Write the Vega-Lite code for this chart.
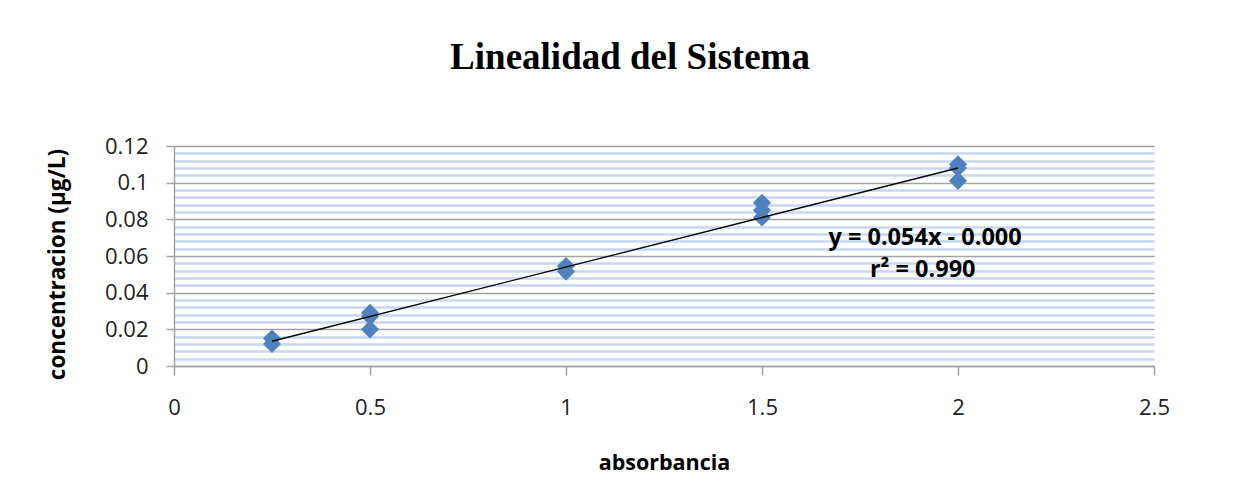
{
  "$schema": "https://vega.github.io/schema/vega-lite/v6.json",
  "autosize": "none",
  "width": 980,
  "height": 220,
  "padding": {"left": 174, "top": 146, "right": 89, "bottom": 116},
  "background": "white",
  "title": {
    "text": "Linealidad del Sistema",
    "font": "Liberation Serif",
    "fontSize": 37,
    "fontWeight": "bold",
    "color": "black",
    "anchor": "middle",
    "dx": -34,
    "offset": 58
  },
  "config": {
    "view": {"stroke": null},
    "font": "Open Sans"
  },
  "datasets": {
    "muestras": [
      {"absorbancia": 0.25, "concentracion": 0.015},
      {"absorbancia": 0.25, "concentracion": 0.012},
      {"absorbancia": 0.5, "concentracion": 0.029},
      {"absorbancia": 0.5, "concentracion": 0.027},
      {"absorbancia": 0.5, "concentracion": 0.020},
      {"absorbancia": 1, "concentracion": 0.0545},
      {"absorbancia": 1, "concentracion": 0.0515},
      {"absorbancia": 1.5, "concentracion": 0.089},
      {"absorbancia": 1.5, "concentracion": 0.085},
      {"absorbancia": 1.5, "concentracion": 0.081},
      {"absorbancia": 2, "concentracion": 0.110},
      {"absorbancia": 2, "concentracion": 0.108},
      {"absorbancia": 2, "concentracion": 0.101}
    ],
    "tendencia": [
      {"absorbancia": 0.25, "concentracion": 0.0135},
      {"absorbancia": 2, "concentracion": 0.108}
    ],
    "ajuste": [
      {"ecuacion": "y = 0.054x - 0.000", "r2": "r² = 0.990"}
    ]
  },
  "resolve": {"axis": {"y": "independent"}},
  "layer": [
    {
      "data": {"name": "muestras"},
      "mark": {"type": "point", "shape": "diamond", "filled": true, "size": 330, "color": "#4f81bd", "opacity": 1},
      "encoding": {
        "x": {
          "field": "absorbancia",
          "type": "quantitative",
          "scale": {"domain": [0, 2.5], "nice": false, "zero": true},
          "axis": {
            "title": "absorbancia",
            "values": [0, 0.5, 1, 1.5, 2, 2.5],
            "format": ".1~f",
            "grid": false,
            "domainColor": "#a3a3a3",
            "domainWidth": 1.5,
            "tickColor": "#a3a3a3",
            "tickWidth": 1.5,
            "tickSize": 9,
            "labelFontSize": 22,
            "labelColor": "#222222",
            "labelPadding": 22,
            "labelOverlap": false,
            "labelBound": false,
            "labelFlush": false,
            "titleFontSize": 21.5,
            "titleFontWeight": "bold",
            "titleColor": "black",
            "titlePadding": 34
          }
        },
        "y": {
          "field": "concentracion",
          "type": "quantitative",
          "scale": {"domain": [0, 0.12], "nice": false},
          "axis": {
            "orient": "left",
            "title": null,
            "values": [0.004, 0.008, 0.012, 0.016, 0.024, 0.028, 0.032, 0.036, 0.044, 0.048, 0.052, 0.056, 0.064, 0.068, 0.072, 0.076, 0.084, 0.088, 0.092, 0.096, 0.104, 0.108, 0.112, 0.116],
            "grid": true,
            "gridColor": "#c7d7ef",
            "gridWidth": 2.5,
            "labels": false,
            "ticks": false,
            "domain": false
          }
        }
      }
    },
    {
      "data": {"name": "tendencia"},
      "mark": {"type": "line", "color": "black", "strokeWidth": 1.3},
      "encoding": {
        "x": {"field": "absorbancia", "type": "quantitative"},
        "y": {
          "field": "concentracion",
          "type": "quantitative",
          "axis": {
            "orient": "left",
            "title": "concentracion (µg/L)",
            "values": [0, 0.02, 0.04, 0.06, 0.08, 0.1, 0.12],
            "format": ".2~f",
            "grid": true,
            "gridColor": "#a3a3a3",
            "gridWidth": 1.5,
            "domainColor": "#a3a3a3",
            "domainWidth": 1.5,
            "tickColor": "#a3a3a3",
            "tickWidth": 1.5,
            "tickSize": 8,
            "labelFontSize": 22,
            "labelColor": "#222222",
            "labelPadding": 18,
            "labelOverlap": false,
            "labelBound": false,
            "labelFlush": false,
            "titleFontSize": 22.5,
            "titleFontWeight": "bold",
            "titleColor": "black",
            "titlePadding": 35,
            "titleY": 118
          }
        }
      }
    },
    {
      "data": {"name": "ajuste"},
      "mark": {"type": "text", "fontSize": 23.5, "fontWeight": "bold", "color": "black"},
      "encoding": {
        "text": {"field": "ecuacion"},
        "x": {"datum": 1.916, "type": "quantitative"},
        "y": {"datum": 0.0698, "type": "quantitative", "axis": {"orient": "left", "labels": false, "ticks": false, "domain": false, "grid": false, "title": null}}
      }
    },
    {
      "data": {"name": "ajuste"},
      "mark": {"type": "text", "fontSize": 23.5, "fontWeight": "bold", "color": "black"},
      "encoding": {
        "text": {"field": "r2"},
        "x": {"datum": 1.91, "type": "quantitative"},
        "y": {"datum": 0.0524, "type": "quantitative", "axis": {"orient": "left", "labels": false, "ticks": false, "domain": false, "grid": false, "title": null}}
      }
    }
  ]
}
